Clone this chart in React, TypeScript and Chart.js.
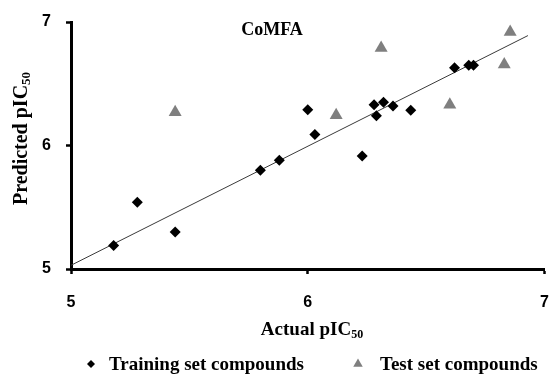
import React, { useEffect, useRef } from "react";
import { Chart, registerables } from "chart.js";

Chart.register(...registerables);

const trainActual = [5.18, 5.28, 5.44, 5.8, 5.88, 6.0, 6.03, 6.23, 6.28, 6.29, 6.32, 6.36, 6.435, 6.62, 6.68, 6.7];
const trainPredicted = [5.19, 5.54, 5.3, 5.8, 5.88, 6.29, 6.09, 5.915, 6.33, 6.24, 6.35, 6.32, 6.285, 6.63, 6.65, 6.65];
const testActual = [5.44, 6.12, 6.31, 6.6, 6.83, 6.855];
const testPredicted = [6.27, 6.245, 6.79, 6.33, 6.655, 6.92];
const fitX = [5, 6.93];
const fitY = [5.03, 6.89];
const tickValues = [5, 6, 7];

const chartTitle = "CoMFA";
const xTitle = ["Actual pIC", "50"];
const yTitle = ["Predicted pIC", "50"];
const legendLabels = ["Training set compounds", "Test set compounds"];

const SERIF = "'Liberation Serif', 'Times New Roman', serif";
const SANS = "'Liberation Sans', Arial, sans-serif";

const decorPlugin = {
  id: "decor",
  afterDraw(chart: any) {
    const ctx = chart.ctx as CanvasRenderingContext2D;
    const area = chart.chartArea;
    ctx.save();
    ctx.fillStyle = "#000";
    ctx.font = `bold 18px ${SERIF}`;
    ctx.textAlign = "center";
    ctx.textBaseline = "middle";
    ctx.fillText(chartTitle, 272, 30);

    const drawSub = (main: string, sub: string, x: number, y: number, bigSize: number, subSize: number) => {
      ctx.font = `bold ${bigSize}px ${SERIF}`;
      const w1 = ctx.measureText(main).width;
      ctx.font = `bold ${subSize}px ${SERIF}`;
      const w2 = ctx.measureText(sub).width;
      const start = x - (w1 + w2) / 2;
      ctx.textAlign = "left";
      ctx.textBaseline = "alphabetic";
      ctx.font = `bold ${bigSize}px ${SERIF}`;
      ctx.fillText(main, start, y);
      ctx.font = `bold ${subSize}px ${SERIF}`;
      ctx.fillText(sub, start + w1, y + 3);
    };
    drawSub(xTitle[0], xTitle[1], 312, 335, 19, 12);

    ctx.save();
    ctx.translate(27, (area.top + area.bottom) / 2 - 7);
    ctx.rotate(-Math.PI / 2);
    drawSub(yTitle[0], yTitle[1], 0, 0, 20, 13);
    ctx.restore();

    const ds0 = chart.data.datasets[0];
    const ds1 = chart.data.datasets[1];
    ctx.fillStyle = ds0.backgroundColor;
    ctx.beginPath();
    const dx = 91, dy = 364, dr = 4;
    ctx.moveTo(dx - dr, dy);
    ctx.lineTo(dx, dy - dr);
    ctx.lineTo(dx + dr, dy);
    ctx.lineTo(dx, dy + dr);
    ctx.closePath();
    ctx.fill();

    ctx.fillStyle = ds1.backgroundColor;
    ctx.beginPath();
    const tx = 358, ty = 364, tr = 5.5;
    ctx.moveTo(tx, ty - tr);
    ctx.lineTo(tx + tr * 0.866, ty + tr * 0.5);
    ctx.lineTo(tx - tr * 0.866, ty + tr * 0.5);
    ctx.closePath();
    ctx.fill();

    ctx.fillStyle = "#000";
    ctx.font = `bold 19px ${SERIF}`;
    ctx.textAlign = "left";
    ctx.textBaseline = "alphabetic";
    ctx.fillText(legendLabels[0], 109, 370);
    ctx.fillText(legendLabels[1], 380, 370);
    ctx.restore();
  },
};

export default function App() {
  const ref = useRef<HTMLCanvasElement | null>(null);
  useEffect(() => {
    if (!ref.current) return;
    const axisCommon = (labelPadding: number, fitFn: (s: any) => void) => ({
      type: "linear",
      min: 5,
      max: 7,
      afterBuildTicks: (s: any) => {
        s.ticks = tickValues.map((v) => ({ value: v }));
      },
      afterFit: (s: any) => {
        fitFn(s);
        s.paddingLeft = 0;
        s.paddingRight = 0;
        s.paddingTop = 0;
        s.paddingBottom = 0;
      },
      grid: {
        drawOnChartArea: false,
        drawTicks: true,
        tickLength: 5,
        tickWidth: 2.5,
        tickColor: "#000",
        color: "#000",
      },
      border: { display: true, color: "#000", width: 3 },
      ticks: {
        padding: labelPadding,
        color: "#000",
        font: { family: SANS, size: 16, weight: "bold" },
        maxRotation: 0,
      },
    });
    const chart = new Chart(ref.current, {
      type: "scatter",
      data: {
        datasets: [
          {
            label: legendLabels[0],
            data: trainActual.map((x, i) => ({ x, y: trainPredicted[i] })),
            pointStyle: "rectRot",
            pointRadius: 5.5,
            pointBorderWidth: 0,
            backgroundColor: "#000000",
            borderColor: "#000000",
          },
          {
            label: legendLabels[1],
            data: testActual.map((x, i) => ({ x, y: testPredicted[i] })),
            pointStyle: "triangle",
            pointRadius: 7.5,
            pointBorderWidth: 0,
            backgroundColor: "#7f7f7f",
            borderColor: "#7f7f7f",
          },
          {
            type: "line",
            label: "fit",
            data: fitX.map((x, i) => ({ x, y: fitY[i] })),
            borderColor: "#3a3a3a",
            borderWidth: 1,
            pointRadius: 0,
            fill: false,
          } as any,
        ],
      },
      options: {
        responsive: false,
        animation: false,
        layout: { padding: { left: 0, right: 6, top: 22, bottom: 0 } },
        plugins: {
          legend: { display: false },
          title: { display: false },
          tooltip: { enabled: false },
        },
        scales: {
          x: axisCommon(19, (s) => { s.height = 107; }),
          y: axisCommon(15, (s) => { s.width = 71; }),
        },
      },
      plugins: [decorPlugin],
    } as any);
    return () => chart.destroy();
  }, []);
  return (
    <div style={{ position: "absolute", left: 0, top: 0, width: 552, height: 376 }}>
      <canvas ref={ref} width={552} height={376} style={{ display: "block" }} />
    </div>
  );
}
